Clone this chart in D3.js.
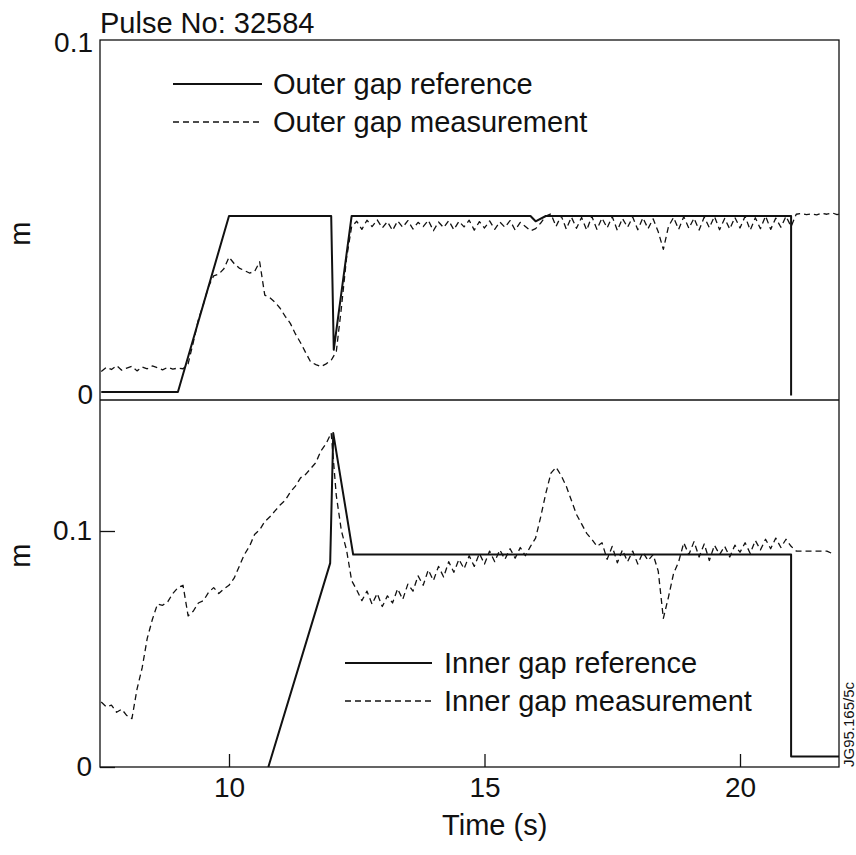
<!DOCTYPE html>
<html>
<head>
<meta charset="utf-8">
<script src="https://cdn.jsdelivr.net/npm/d3@7"></script>
<style>
  body { margin: 0; background: #fff; }
  text { font-family: "Liberation Sans", Arial, Helvetica, sans-serif; fill: #111; }
</style>
</head>
<body>
<div id="chart"></div>
<script>
// ---- data ----
const pulseLabel = "Pulse No: 32584"
const xTicks = [10, 15, 20]

// outer gap reference (solid), [time s, gap m]
const outerRefT = [7.5, 9.0, 10.0, 12.0, 12.05, 12.4, 15.9, 16.0, 16.2, 21.0, 21.0]
const outerRefV = [0, 0, 0.05, 0.05, 0.012, 0.05, 0.05, 0.0485, 0.05, 0.05, -0.001]

// inner gap reference (solid)
const innerRefT = [10.77, 11.98, 12.04, 12.43, 21.0, 21.0, 22.0]
const innerRefV = [0, 0.0864, 0.1415, 0.09, 0.09, 0.0045, 0.0045]

// measurements sampled every 0.1 s from 7.5 s
const measStart = 7.5, measStep = 0.1
const outerMeas = [
  0.0058, 0.0070, 0.0064, 0.0075, 0.0062, 0.0068, 0.0073, 0.0060, 0.0071, 0.0066,
  0.0074, 0.0069, 0.0063, 0.0070, 0.0065, 0.0068, 0.0066, 0.0080, 0.0140, 0.0205,
  0.0250, 0.0300, 0.0330, 0.0335, 0.0350, 0.0383, 0.0365, 0.0352, 0.0345, 0.0338,
  0.0342, 0.0370, 0.0275, 0.0268, 0.0255, 0.0238, 0.0215, 0.0195, 0.0165, 0.0140,
  0.0112, 0.0085, 0.0078, 0.0072, 0.0080, 0.0090, 0.0115, 0.0240, 0.0380, 0.0470,
  0.0485, 0.0462, 0.0488, 0.0470, 0.0489, 0.0466, 0.0484, 0.0459, 0.0486, 0.0468,
  0.0487, 0.0463, 0.0482, 0.0470, 0.0488, 0.0458, 0.0483, 0.0467, 0.0487, 0.0461,
  0.0485, 0.0469, 0.0488, 0.0460, 0.0484, 0.0466, 0.0486, 0.0462, 0.0483, 0.0468,
  0.0487, 0.0460, 0.0482, 0.0470, 0.0458, 0.0464, 0.0480, 0.0500, 0.0506, 0.0470,
  0.0501, 0.0463, 0.0497, 0.0465, 0.0496, 0.0460, 0.0499, 0.0462, 0.0494, 0.0466,
  0.0498, 0.0459, 0.0493, 0.0468, 0.0497, 0.0461, 0.0495, 0.0464, 0.0492, 0.0455,
  0.0405, 0.0470, 0.0496, 0.0462, 0.0498, 0.0465, 0.0494, 0.0460, 0.0497, 0.0467,
  0.0499, 0.0461, 0.0493, 0.0463, 0.0496, 0.0466, 0.0499, 0.0460, 0.0495, 0.0464,
  0.0500, 0.0462, 0.0494, 0.0468, 0.0499, 0.0470, 0.0505, 0.0507, 0.0504, 0.0506,
  0.0503, 0.0508, 0.0505, 0.0509, 0.0504, 0.0507
]
const innerMeas = [
  0.0275, 0.0255, 0.0262, 0.0232, 0.0245, 0.0218, 0.0205, 0.0330, 0.0420, 0.0545,
  0.0625, 0.0690, 0.0685, 0.0700, 0.0735, 0.0760, 0.0770, 0.0640, 0.0660, 0.0695,
  0.0705, 0.0740, 0.0760, 0.0735, 0.0755, 0.0770, 0.0800, 0.0850, 0.0900, 0.0935,
  0.0985, 0.1005, 0.1040, 0.1060, 0.1085, 0.1110, 0.1130, 0.1165, 0.1190, 0.1225,
  0.1240, 0.1265, 0.1290, 0.1340, 0.1370, 0.1415, 0.1150, 0.1000, 0.0920, 0.0790,
  0.0750, 0.0705, 0.0745, 0.0690, 0.0735, 0.0680, 0.0725, 0.0695, 0.0755, 0.0710,
  0.0775, 0.0745, 0.0810, 0.0770, 0.0835, 0.0790, 0.0850, 0.0805, 0.0870, 0.0825,
  0.0880, 0.0840, 0.0895, 0.0850, 0.0905, 0.0860, 0.0915, 0.0870, 0.0920, 0.0880,
  0.0925, 0.0885, 0.0930, 0.0895, 0.0935, 0.0970, 0.1060, 0.1160, 0.1245, 0.1270,
  0.1235, 0.1190, 0.1130, 0.1070, 0.1030, 0.0990, 0.0965, 0.0935, 0.0950, 0.0880,
  0.0935, 0.0865, 0.0920, 0.0870, 0.0915, 0.0860, 0.0910, 0.0875, 0.0900, 0.0830,
  0.0630, 0.0720, 0.0820, 0.0870, 0.0950, 0.0900, 0.0955, 0.0890, 0.0945, 0.0875,
  0.0940, 0.0900, 0.0935, 0.0890, 0.0940, 0.0910, 0.0950, 0.0905, 0.0960, 0.0920,
  0.0965, 0.0925, 0.0970, 0.0930, 0.0965, 0.0935, 0.0915, 0.0915, 0.0915, 0.0915,
  0.0915, 0.0915, 0.0915, 0.0905
]

// ---- layout ----
const width = 856, height = 855
const frame = { left: 100, right: 839, top: 40, mid: 400, bottom: 767 }

const svg = d3.select("#chart").append("svg")
  .attr("width", width)
  .attr("height", height)

// x scale: 10 s -> 229 px, 20 s -> 740 px
const x = d3.scaleLinear().domain([10, 20]).range([229, 740])
// top panel y: 0 -> 392, 0.1 -> 40
const yTop = d3.scaleLinear().domain([0, 0.1]).range([392, frame.top])
// bottom panel y: 0 -> 767, 0.1 -> 531
const yBot = d3.scaleLinear().domain([0, 0.1]).range([frame.bottom, 531])

svg.append("defs").append("clipPath").attr("id", "plotClip")
  .append("rect")
  .attr("x", frame.left).attr("y", frame.top)
  .attr("width", frame.right - frame.left)
  .attr("height", frame.bottom - frame.top)

const toPairs = (ts, vs) => ts.map((t, i) => [t, vs[i]])
const measPairs = vs => vs.map((v, i) => [measStart + i * measStep, v])

function drawLine(pairs, yScale, dashed) {
  const line = d3.line().x(d => x(d[0])).y(d => yScale(d[1]))
  svg.append("path")
    .datum(pairs)
    .attr("clip-path", "url(#plotClip)")
    .attr("d", line)
    .attr("fill", "none")
    .attr("stroke", "#111")
    .attr("stroke-width", dashed ? 1.3 : 2)
    .attr("stroke-dasharray", dashed ? "6,4" : null)
    .attr("stroke-linejoin", "round")
}

drawLine(measPairs(outerMeas), yTop, true)
drawLine(toPairs(outerRefT, outerRefV), yTop, false)
drawLine(measPairs(innerMeas), yBot, true)
drawLine(toPairs(innerRefT, innerRefV), yBot, false)

// frame
svg.append("rect")
  .attr("x", frame.left).attr("y", frame.top)
  .attr("width", frame.right - frame.left)
  .attr("height", frame.bottom - frame.top)
  .attr("fill", "none").attr("stroke", "#111").attr("stroke-width", 1.3)
svg.append("line")
  .attr("x1", frame.left).attr("x2", frame.right)
  .attr("y1", frame.mid).attr("y2", frame.mid)
  .attr("stroke", "#111").attr("stroke-width", 1.3)

// x axis (ticks inside)
const xAxis = d3.axisBottom(x).tickValues(xTicks).tickSizeInner(-13).tickSizeOuter(0).tickPadding(10)
const gx = svg.append("g").attr("transform", `translate(0,${frame.bottom})`).call(xAxis)
gx.select(".domain").remove()
gx.selectAll("line").attr("stroke", "#111").attr("stroke-width", 1.3)
gx.selectAll("text").style("font-size", "28px").style("font-family", null).attr("fill", "#111")

// y axes
const yAxisBot = d3.axisLeft(yBot).tickValues([0, 0.1]).tickFormat(d => d === 0 ? "0" : "0.1")
  .tickSizeInner(-15).tickSizeOuter(0).tickPadding(8)
const gyb = svg.append("g").attr("transform", `translate(${frame.left},0)`).call(yAxisBot)
gyb.select(".domain").remove()
gyb.selectAll("line").attr("stroke", "#111").attr("stroke-width", 1.3)
gyb.selectAll("text").style("font-size", "28px").style("font-family", null).attr("fill", "#111")

const yAxisTop = d3.axisLeft(yTop).tickValues([0, 0.1]).tickFormat(d => d === 0 ? "0" : "0.1")
  .tickSize(0).tickPadding(7)
const gyt = svg.append("g").attr("transform", `translate(${frame.left},0)`).call(yAxisTop)
gyt.select(".domain").remove()
gyt.selectAll("text").style("font-size", "28px").style("font-family", null).attr("fill", "#111")
  .attr("dy", "0.4em")

// axis titles
svg.append("text")
  .attr("x", x(15.2)).attr("y", 835)
  .attr("text-anchor", "middle")
  .style("font-size", "29px")
  .text("Time (s)")

svg.append("text")
  .attr("transform", `translate(30,${yTop(0.045)}) rotate(-90)`)
  .attr("text-anchor", "middle")
  .style("font-size", "29px")
  .text("m")
svg.append("text")
  .attr("transform", `translate(30,${yBot(0.0895)}) rotate(-90)`)
  .attr("text-anchor", "middle")
  .style("font-size", "29px")
  .text("m")

svg.append("text")
  .attr("x", frame.left).attr("y", 33)
  .style("font-size", "29px")
  .text(pulseLabel)

// legends
function legend(x0, x1, tx, yLine, label, dashed) {
  svg.append("line")
    .attr("x1", x0).attr("x2", x1).attr("y1", yLine).attr("y2", yLine)
    .attr("stroke", "#111")
    .attr("stroke-width", dashed ? 1.3 : 2)
    .attr("stroke-dasharray", dashed ? "6,4" : null)
  svg.append("text")
    .attr("x", tx).attr("y", yLine + 10)
    .style("font-size", "29px")
    .text(label)
}
legend(173, 262, 273, 84, "Outer gap reference", false)
legend(173, 262, 273, 122, "Outer gap measurement", true)
legend(345, 432, 444, 663, "Inner gap reference", false)
legend(345, 432, 444, 701, "Inner gap measurement", true)

// figure id, rotated along the right edge
svg.append("text")
  .attr("transform", "translate(854,767) rotate(-90)")
  .style("font-size", "15px")
  .text("JG95.165/5c")
</script>
</body>
</html>
